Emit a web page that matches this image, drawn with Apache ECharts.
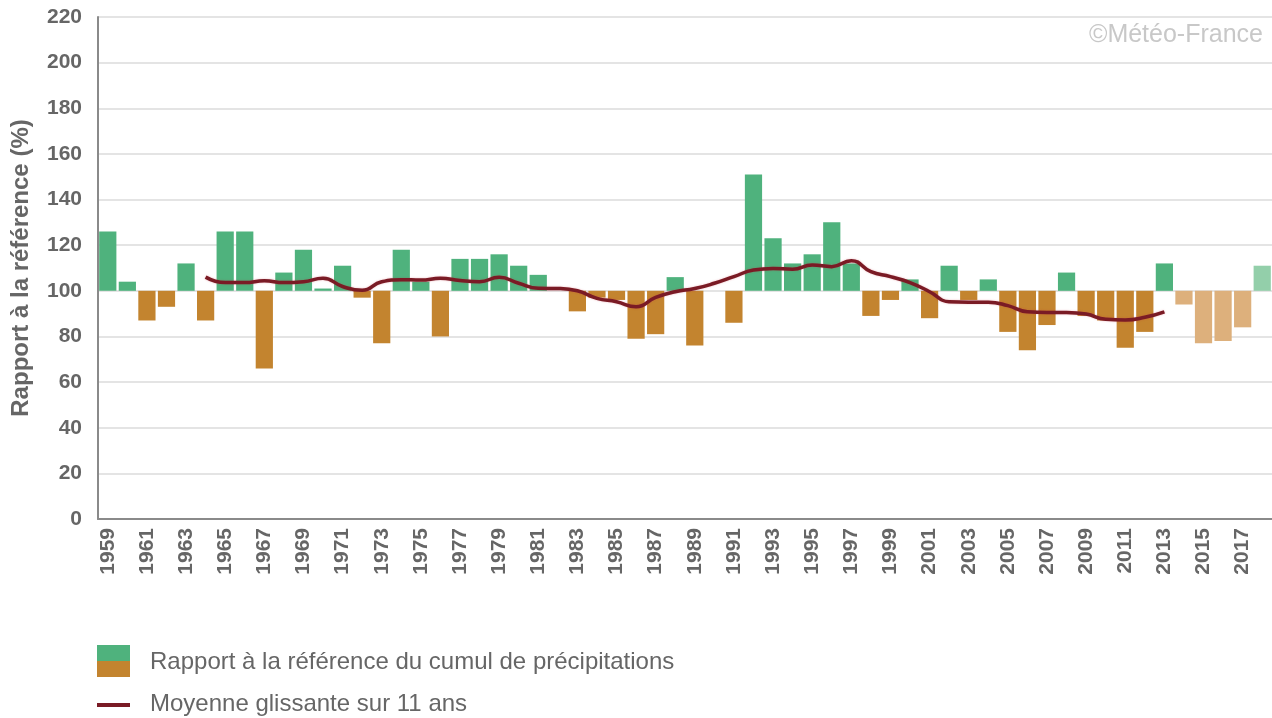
<!DOCTYPE html>
<html><head><meta charset="utf-8">
<script src="https://cdn.jsdelivr.net/npm/echarts@6/dist/echarts.min.js"></script>
<style>html,body{margin:0;padding:0;background:#fff}#c{width:1272px;height:718px}</style>
</head><body><div id="c"></div>
<script>
const years = [];
for (let y = 1959; y <= 2018; y++) years.push(String(y));
const ratio = [126,104,87,93,112,87,126,126,66,108,118,101,111,97,77,118,104,80,114,114,
  116,111,107,100,91,97,96,79,81,106,76,100,86,151,123,112,116,130,112,89,
  96,105,88,111,96,105,82,74,85,108,89,87,75,82,112,94,77,78,84,111];
const movingAvg = [null,null,null,null,null,106,103.6,103.6,104.4,103.6,104,105.5,101.9,100.2,104,104.9,104.7,105.5,104.5,104,
  105.9,103.3,101.1,101,100,96.7,95.2,93,97.1,99.6,101,103.3,106.2,109.1,109.8,109.5,111.3,110.6,113.2,108.4,
  106.2,103.6,99.6,95.2,95,95,93.5,90.8,90.5,90.5,89.8,87.5,87.2,88.4,90.8,null,null,null,null,null];
const provisionalFrom = '2014';
const yTicks = [0,20,40,60,80,100,120,140,160,180,200,220];
const reference = 100;

const GREEN = '#4fb27d', BROWN = '#c3842f', LGREEN = '#93cfaa', LBROWN = '#ddb07c';
const FONT = 'Liberation Sans, Arial, sans-serif';
const base = ratio.map(v => Math.min(v, reference));
const diff = ratio.map((v, i) => {
  const prov = years[i] >= provisionalFrom;
  const up = v >= reference;
  return { value: Math.abs(v - reference), itemStyle: { color: up ? (prov ? LGREEN : GREEN) : (prov ? LBROWN : BROWN) } };
});

const chart = echarts.init(document.getElementById('c'), null, { renderer: 'canvas' });
chart.setOption({
  animation: false,
  grid: { left: 98, right: 0, top: 17, bottom: 199, containLabel: false, outerBoundsMode: 'none' },
  xAxis: {
    type: 'category', data: years, boundaryGap: true,
    axisLine: { lineStyle: { color: '#8a8a8a', width: 2 } },
    axisTick: { show: false },
    axisLabel: { interval: 1, rotate: 90, color: '#666', fontWeight: 'bold', fontSize: 21, fontFamily: FONT, margin: 9 }
  },
  yAxis: {
    type: 'value', min: 0, max: 220, interval: 20,
    name: 'Rapport à la référence (%)', nameLocation: 'middle', nameGap: 65, nameRotate: 90,
    nameTextStyle: { color: '#666', fontWeight: 'bold', fontSize: 24, fontFamily: FONT },
    axisLine: { show: true, lineStyle: { color: '#8a8a8a', width: 2 } },
    axisTick: { show: false },
    axisLabel: { color: '#666', fontWeight: 'bold', fontSize: 21, fontFamily: FONT, margin: 16,
      formatter: v => yTicks.includes(v) ? String(v) : '' },
    splitLine: { lineStyle: { color: '#e4e4e4', width: 2 } }
  },
  series: [
    { type: 'bar', stack: 'r', data: base, barWidth: '88%', itemStyle: { color: 'transparent' }, silent: true },
    { type: 'bar', stack: 'r', data: diff, barWidth: '88%' },
    { type: 'line', data: movingAvg, smooth: true, symbol: 'none', connectNulls: false,
      lineStyle: { color: '#7a1b25', width: 3.5, shadowColor: 'rgba(200,40,60,0.35)', shadowBlur: 2 }, z: 5 }
  ],
  graphic: [
    { type: 'text', right: 9, top: 23, style: { text: '©Météo-France', fill: '#c8c8c8', font: '25px ' + FONT } },
    { type: 'rect', left: 97, top: 645, shape: { width: 33, height: 16 }, style: { fill: GREEN } },
    { type: 'rect', left: 97, top: 661, shape: { width: 33, height: 16 }, style: { fill: BROWN } },
    { type: 'text', left: 150, top: 650, style: { text: 'Rapport à la référence du cumul de précipitations', fill: '#666', font: '24px ' + FONT } },
    { type: 'rect', left: 97, top: 703, shape: { width: 33, height: 4 }, style: { fill: '#7a1b25' } },
    { type: 'text', left: 150, top: 692, style: { text: 'Moyenne glissante sur 11 ans', fill: '#666', font: '24px ' + FONT } }
  ]
});
</script></body></html>
